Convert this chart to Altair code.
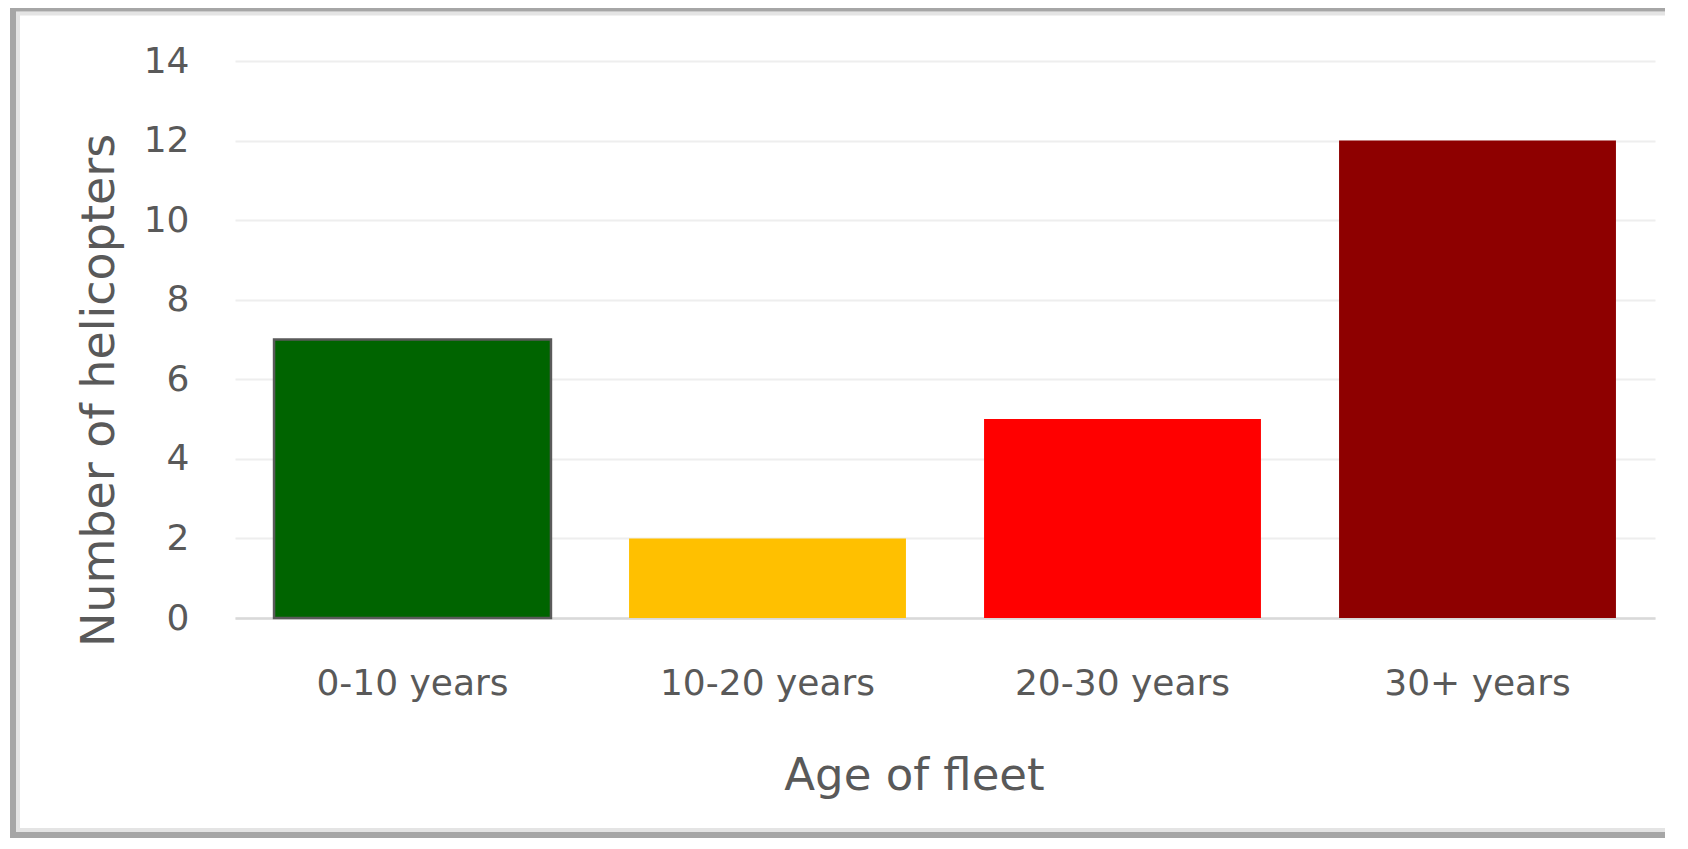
import altair as alt
import pandas as pd

categories = ["0-10 years", "10-20 years", "20-30 years", "30+ years"]
counts = [7, 2, 5, 12]
palette = ["#006400", "#FFC000", "#FF0000", "#8E0000"]
y_ticks = [0, 2, 4, 6, 8, 10, 12, 14]

df = pd.DataFrame({"age": categories, "n": counts})
frame_df = pd.DataFrame({"f": [0]})

W, H = 1420, 557
FONT = "DejaVu Sans"
TXT = "#595959"


def hrule(y, x1, x2, color, width):
    return alt.Chart(frame_df).mark_rule(color=color, strokeWidth=width).encode(
        y=alt.value(y), x=alt.value(x1), x2=alt.value(x2)
    )


def vrule(x, y1, y2, color, width):
    return alt.Chart(frame_df).mark_rule(color=color, strokeWidth=width).encode(
        x=alt.value(x), y=alt.value(y1), y2=alt.value(y2)
    )


frame = [
    vrule(-217, -49.5, 771, "#e4e4e4", 4),
    hrule(-47.5, -219, 1445, "#e4e4e4", 4),
    hrule(769, -219, 1445, "#e4e4e4", 4),
    vrule(-222, -56, 777, "#a6a6a6", 6),
    hrule(-52.5, -225, 1445, "#a6a6a6", 6),
    hrule(774, -225, 1445, "#a6a6a6", 6),
]

bars = alt.Chart(df).mark_bar(strokeWidth=2.5).encode(
    x=alt.X(
        "age:N",
        sort=categories,
        scale=alt.Scale(paddingInner=0.22, paddingOuter=0.11),
        axis=alt.Axis(
            title="Age of fleet",
            labelAngle=0,
            labelLimit=0,
            ticks=False,
            grid=False,
            domainColor="#d9d9d9",
            domainWidth=2.5,
            labelPadding=48,
            labelFontSize=36,
            titleFontSize=45,
            titleX=679,
            titleY=157,
            titleBaseline="middle",
        ),
    ),
    y=alt.Y(
        "n:Q",
        scale=alt.Scale(domain=[0, 14]),
        axis=alt.Axis(
            values=y_ticks,
            title="Number of helicopters",
            domain=False,
            ticks=False,
            gridColor="#eeeeee",
            gridWidth=2,
            labelPadding=46,
            labelFontSize=36,
            titleFontSize=46,
            titleX=-136,
            titleY=329,
            titleBaseline="middle",
        ),
    ),
    color=alt.Color(
        "age:N", sort=categories,
        scale=alt.Scale(domain=categories, range=palette), legend=None
    ),
    stroke=alt.condition(
        alt.datum.age == "0-10 years", alt.value("#5a5a5a"), alt.value("transparent")
    ),
)

chart = alt.layer(*frame, bars).properties(
    width=W,
    height=H,
    padding={"left": 227, "top": 53, "right": 10, "bottom": 220},
    autosize=alt.AutoSizeParams(type="none"),
    background="white",
).configure_view(stroke=None).configure_axis(
    labelFont=FONT,
    titleFont=FONT,
    labelColor=TXT,
    titleColor=TXT,
    titleFontWeight="normal",
)

chart.save("out.html", embed_options={"renderer": "svg", "actions": False})
